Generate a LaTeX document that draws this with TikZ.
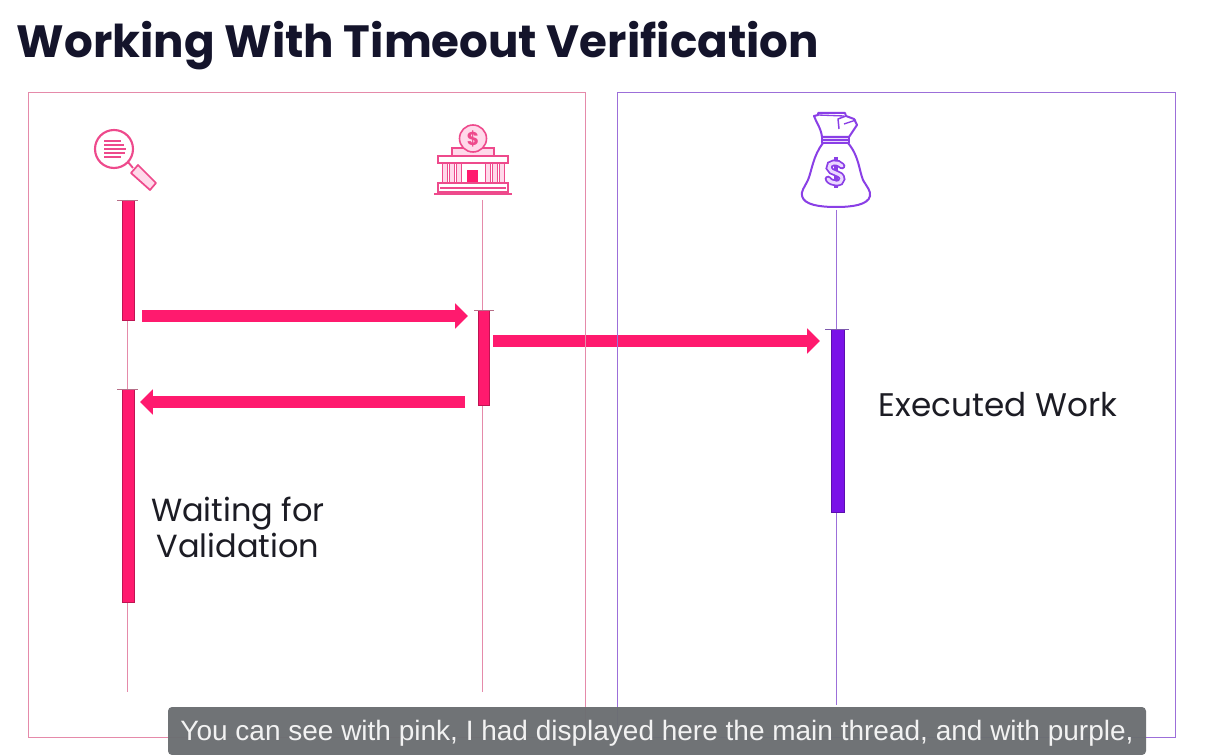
\documentclass[tikz,border=0pt]{standalone}
\usepackage{fontspec}
\setmainfont{Poppins}
\newfontfamily\capfont{Liberation Sans}
\definecolor{hot}{HTML}{FF1A6E}
\definecolor{iconpink}{HTML}{EE4A8C}
\definecolor{palepink}{HTML}{FFD9EA}
\definecolor{framepink}{HTML}{E58AAA}
\definecolor{framepurple}{HTML}{9C6FD9}
\definecolor{vio}{HTML}{7A12E8}
\definecolor{iconvio}{HTML}{8A3FE6}
\definecolor{palevio}{HTML}{EBD9FF}
\definecolor{ink}{HTML}{14142B}
\definecolor{labink}{HTML}{1C1C24}
\definecolor{capgrey}{HTML}{6B6E71}
\usetikzlibrary{arrows.meta}
\tikzset{
  bar/.style={draw=#1!75!black,line width=.4pt,fill=#1,inner sep=0pt,rectangle},
  life/.style={draw=#1,line width=.75pt},
  thick arrow/.style={draw=hot,line width=9.4pt,-{Triangle[length=9.6pt,width=18.5pt]}},
  frame/.style={draw=#1,line width=.75pt},
  lab/.style={text=labink,align=center,inner sep=0pt,font=\fontsize{24}{26.5}\selectfont},
  ipink/.style={draw=iconpink,line width=1.2pt},
  ivio/.style={draw=iconvio,line width=1.5pt,line join=round},
}
\begin{document}
\begin{tikzpicture}[x=.75pt,y=-.75pt]
\useasboundingbox[fill=white] (0,0) rectangle (1216,755);
\node[text=ink,inner sep=0pt] (title) at (418,46) {\fontsize{33.9}{38}\selectfont\bfseries Working With Timeout Verification};

% lifelines
\coordinate (l1t) at (127,200); \coordinate (l1b) at (127,692);
\coordinate (l2t) at (482,200); \coordinate (l2b) at (482,692);
\coordinate (l3t) at (836.5,210); \coordinate (l3b) at (836.5,705);
\draw[life=framepink] (l1t) -- (l1b);
\draw[life=framepink] (l2t) -- (l2b);
\draw[life=framepurple] (l3t) -- (l3b);

% activation bars
\node[bar=hot,minimum width=9pt,minimum height=90pt] (b1) at (128,260) {};
\node[bar=hot,minimum width=9pt,minimum height=160pt] (b2) at (128,496) {};
\node[bar=hot,minimum width=8.2pt,minimum height=71.2pt] (b3) at (483.5,357.5) {};
\node[bar=vio,minimum width=9.7pt,minimum height=137.5pt] (b4) at (837.5,421) {};
% ticks
\draw[draw=framepink!80!black,line width=.6pt] (117,200) -- (138,200);
\draw[draw=framepink!80!black,line width=.6pt] (117,389) -- (138,389);
\draw[draw=framepink!80!black,line width=.6pt] (474,310) -- (494,310);
\draw[draw=framepurple!80!black,line width=.6pt] (825,329) -- (849,329);

% arrows
\coordinate (a1s) at (142,316); \coordinate (a1e) at (468,316);
\coordinate (a2s) at (465,402); \coordinate (a2e) at (140,402);
\coordinate (a3s) at (493,341); \coordinate (a3e) at (820,341);
\draw[thick arrow] (a1s) -- (a1e);
\draw[thick arrow] (a2s) -- (a2e);
\draw[thick arrow] (a3s) -- (a3e);

% frames
\draw[frame=framepink] (28.5,92.5) rectangle (585.5,737.5);
\draw[frame=framepurple] (617,92.5) rectangle (1175.5,737.5);

% labels
\node[lab,font=\fontsize{24.5}{27}\selectfont] (exec) at (998,405) {Executed Work};
\node[lab] (wait) at (238,527.5) {Waiting for\\Validation};

% magnifier
\draw[ipink,line width=1.6pt] (114,149) circle (19);
\draw[ipink,line width=1.4pt] (128,162) -- (133,168);
\draw[ipink,fill=palepink,line width=1.3pt,line join=round] (138,165) -- (156,183) -- (150,190) -- (131,173) -- cycle;
\foreach \yy/\xx in {141/121,145/124,149/126,153/125,157/121}
  \draw[draw=iconpink,line width=1.1pt] (104,\yy) -- (\xx,\yy);

% bank
\draw[ipink,fill=palepink] (452,148) rectangle (494,156);
\draw[ipink,fill=palepink] (473,138.5) circle (13.5);
\node[inner sep=0pt,text=iconpink] (bankd) at (473,139) {\fontsize{14}{14}\selectfont\bfseries\$};
\draw[ipink,fill=white] (438,156) rectangle (508,163);
\foreach \xa/\xb in {442/447,449/454,456/461,485/490,492/497,499/504}
  \draw[draw=iconpink,fill=palepink,line width=.6pt] (\xa,163) rectangle (\xb,183);
\fill[hot] (467,170) rectangle (478,183);
\draw[ipink,fill=white] (438,183) rectangle (508,192);
\draw[draw=iconpink,line width=.9pt] (440,188) -- (506,188);
\draw[ipink] (434,194) -- (512,194);

% money bag
\draw[ivio,fill=white] (818,113) -- (845,113) -- (846,116) -- (854,119) -- (857,125) -- (849,137) -- (822,137)
  .. controls (821,128) and (816,122) .. (814,116) -- (818,115) -- cycle;
\draw[ivio,line width=1pt] (818,115) -- (844,116);
\draw[ivio,line width=1.1pt] (839,129) -- (838,119) -- (846,116);
\draw[ivio,line width=1pt] (844,124) -- (856,120);
\draw[ivio,fill=white] (823,143) .. controls (813,156) and (812,170) .. (808,180)
  .. controls (804,188) and (801,191) .. (802,196)
  .. controls (804,205) and (820,207) .. (836,207)
  .. controls (852,207) and (868,205) .. (870,196)
  .. controls (871,191) and (867,187) .. (863,180)
  .. controls (859,170) and (859,156) .. (848,143);
\draw[ivio,fill=palevio] (822,137) rectangle (849,143);
\draw[ivio,line width=.8pt] (822,140) -- (849,140);
% dollar sign of the bag, outlined
\draw[draw=iconvio,line width=2.6pt] (836,157) -- (836,188);
\draw[draw=iconvio,line width=5pt,line cap=round] (842,166) .. controls (838,161) and (828,162) .. (829,168)
  .. controls (830,174) and (842,172) .. (842,179) .. controls (842,185) and (831,184) .. (828,179);
\draw[draw=palevio,line width=2.3pt,line cap=round] (842,166) .. controls (838,161) and (828,162) .. (829,168)
  .. controls (830,174) and (842,172) .. (842,179) .. controls (842,185) and (831,184) .. (828,179);

% caption
\fill[capgrey,fill opacity=.96,rounded corners=3pt] (168,755) -- (168,707) -- (1146,707) -- (1146,755) -- cycle;
\node[inner sep=0pt,text=white!95!black] (cap) at (657,733) {\capfont\fontsize{21}{24}\selectfont You can see with pink, I had displayed here the main thread, and with purple,};
\end{tikzpicture}
\end{document}
